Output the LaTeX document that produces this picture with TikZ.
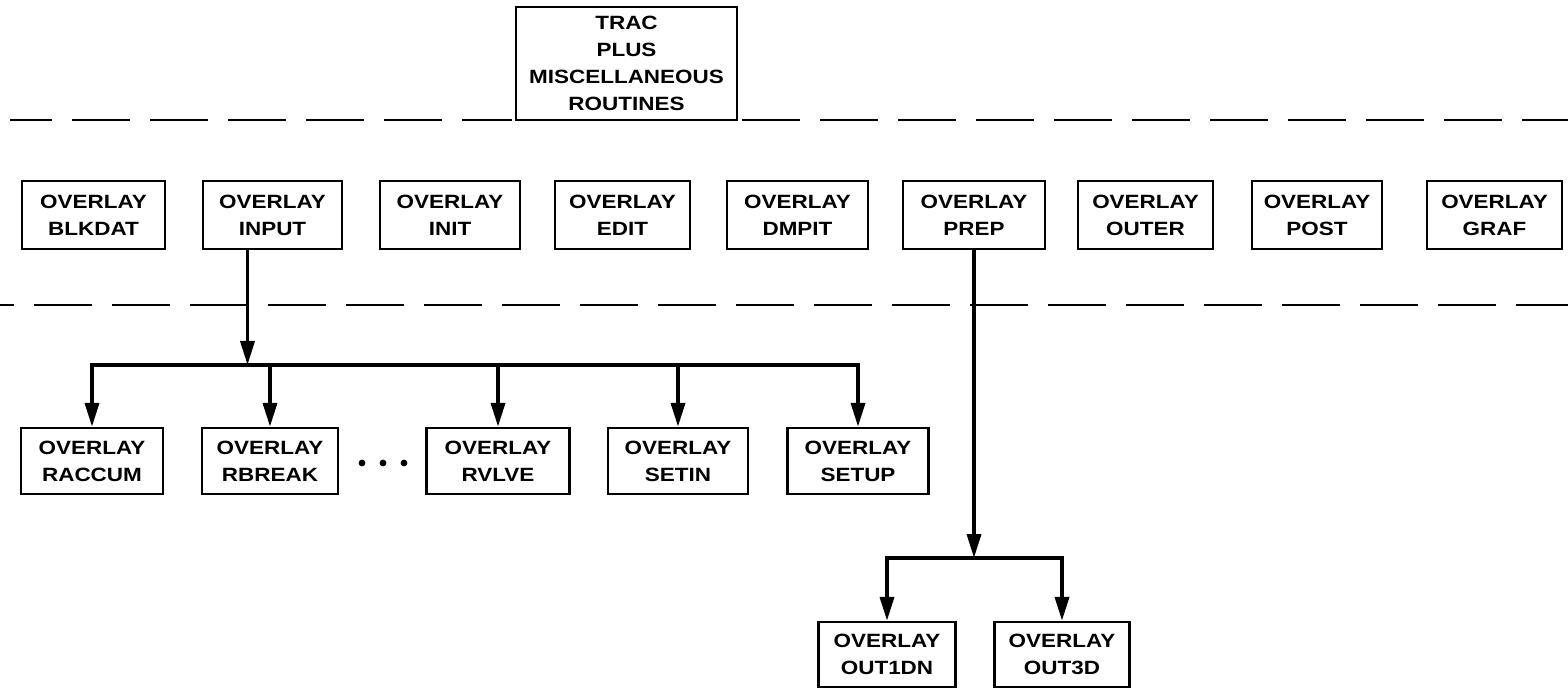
\documentclass[tikz,border=0pt]{standalone}
\usepackage{fontspec}
\newfontfamily\lblfont{Liberation Sans}[FakeStretch=1.17]
\usetikzlibrary{arrows.meta}

\begin{document}
\begin{tikzpicture}[x=0.5pt,y=-0.5pt,
  ovl/.style={draw, line width=1.2pt, fill=white, inner sep=0pt, align=center,
    font=\lblfont\bfseries\fontsize{9.6}{13.5}\selectfont},
  row1/.style={ovl, minimum height=34pt},
  row2/.style={ovl, minimum height=33pt},
  row3/.style={ovl, minimum height=32.5pt},
  flow/.style={line width=1.8pt},
  arr/.style={flow, -{Triangle[length=12pt,width=7pt]}},
  sep/.style={line width=1.3pt, dash pattern=on 29pt off 10pt},
]
\useasboundingbox (0,0) rectangle (1568,689);

% level separators (the upper one is broken by the root box)
\draw[sep, dash phase=8pt] (10,120) -- (512,120);
\draw[sep] (742,120) -- (1568,120);
\draw[sep, dash phase=22pt] (0,305) -- (1568,305);

% root segment
\node[ovl, minimum width=110.5pt, minimum height=56.5pt] (trac) at (626.5,63.5)
  {TRAC\\PLUS\\MISCELLANEOUS\\ROUTINES};

% first-level overlays
\node[row1, minimum width=71.5pt] (blkdat) at (93.5,215)  {OVERLAY\\BLKDAT};
\node[row1, minimum width=69.5pt] (input)  at (272.5,215) {OVERLAY\\INPUT};
\node[row1, minimum width=70pt]   (init)   at (450,215)   {OVERLAY\\INIT};
\node[row1, minimum width=67.5pt] (edit)   at (622.5,215) {OVERLAY\\EDIT};
\node[row1, minimum width=70.5pt] (dmpit)  at (797.5,215) {OVERLAY\\DMPIT};
\node[row1, minimum width=71pt]   (prep)   at (974,215)   {OVERLAY\\PREP};
\node[row1, minimum width=67.5pt] (outer)  at (1145.5,215){OVERLAY\\OUTER};
\node[row1, minimum width=65pt]   (post)   at (1317,215)  {OVERLAY\\POST};
\node[row1, minimum width=67.5pt] (graf)   at (1494.5,215){OVERLAY\\GRAF};

% second-level overlays under INPUT
\node[row2, minimum width=71pt]   (raccum) at (92,461)  {OVERLAY\\RACCUM};
\node[row2, minimum width=68pt]   (rbreak) at (270,461) {OVERLAY\\RBREAK};
\node[row2, minimum width=71.5pt] (rvlve)  at (498,461) {OVERLAY\\RVLVE};
\node[row2, minimum width=70pt]   (setin)  at (678,461) {OVERLAY\\SETIN};
\node[row2, minimum width=70.5pt] (setup)  at (858,461) {OVERLAY\\SETUP};

% ellipsis between RBREAK and RVLVE
\foreach \x in {362,383,404} \fill (\x,463) circle[radius=1.7pt];

% second-level overlays under PREP
\node[row3, minimum width=68.5pt] (out1dn) at (887,654.5)  {OVERLAY\\OUT1DN};
\node[row3, minimum width=67.5pt] (out3d)  at (1062,654.5) {OVERLAY\\OUT3D};

% INPUT branch
\coordinate (jin) at (247.5,365);
\draw[arr] ([xshift=-12.5pt]input.south) -- (jin);
\draw[arr] (jin) -| (raccum.north);
\draw[arr] (jin) -| (setup.north);
\foreach \n in {rbreak,rvlve,setin}
  \draw[arr] (\n.north |- jin) -- (\n.north);

% PREP branch
\coordinate (jprep) at (974,558);
\draw[arr] (prep.south) -- (jprep);
\draw[arr] (jprep) -| (out1dn.north);
\draw[arr] (jprep) -| (out3d.north);
\end{tikzpicture}
\end{document}
